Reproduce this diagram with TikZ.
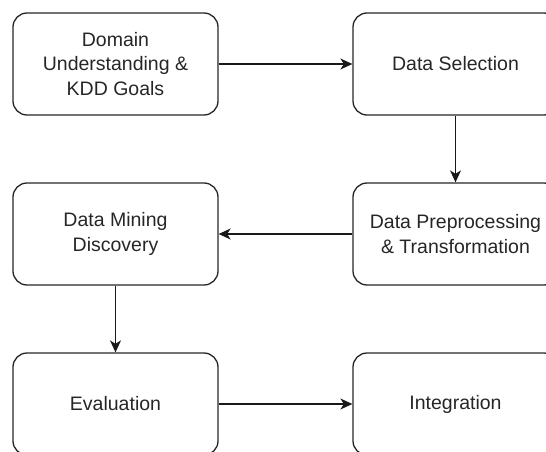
\documentclass[tikz,border=0pt]{standalone}
\usepackage{fontspec}
\setmainfont{Liberation Sans}
\usetikzlibrary{arrows.meta}
\tikzset{
    stagebox/.style={draw=black!85,line width=1.3pt,rounded corners=14pt,
        minimum width=205pt,minimum height=102pt,align=center,text=black!85,
        font=\fontsize{19.5}{24.5}\selectfont},
    flow/.style={line width=1.3pt,draw=black!90,-{Stealth[length=12pt,width=11pt,inset=3.5pt]}},
}

\begin{document}
\begin{tikzpicture}[x=1pt,y=-1pt]
    \useasboundingbox (0,0) rectangle (546,452);
    \clip (0,0) rectangle (546,452);
    % row 1
    \node[stagebox] (domain) at (115.5,64) {Domain\\Understanding \&\\KDD Goals};
    \node[stagebox] (selection) at (455.5,64) {Data Selection};
    % row 2
    \node[stagebox] (mining) at (115.5,234) {Data Mining\\Discovery};
    \node[stagebox] (preproc) at (455.5,234) {Data Preprocessing\\\& Transformation};
    % row 3
    \node[stagebox] (evaluation) at (115.5,404) {Evaluation};
    \node[stagebox] (integration) at (455.5,404) {Integration};
    \draw[flow] (domain) -- (selection);
    \draw[flow] (selection) -- (preproc);
    \draw[flow] (preproc) -- (mining);
    \draw[flow] (mining) -- (evaluation);
    \draw[flow] (evaluation) -- (integration);
\end{tikzpicture}
\end{document}
